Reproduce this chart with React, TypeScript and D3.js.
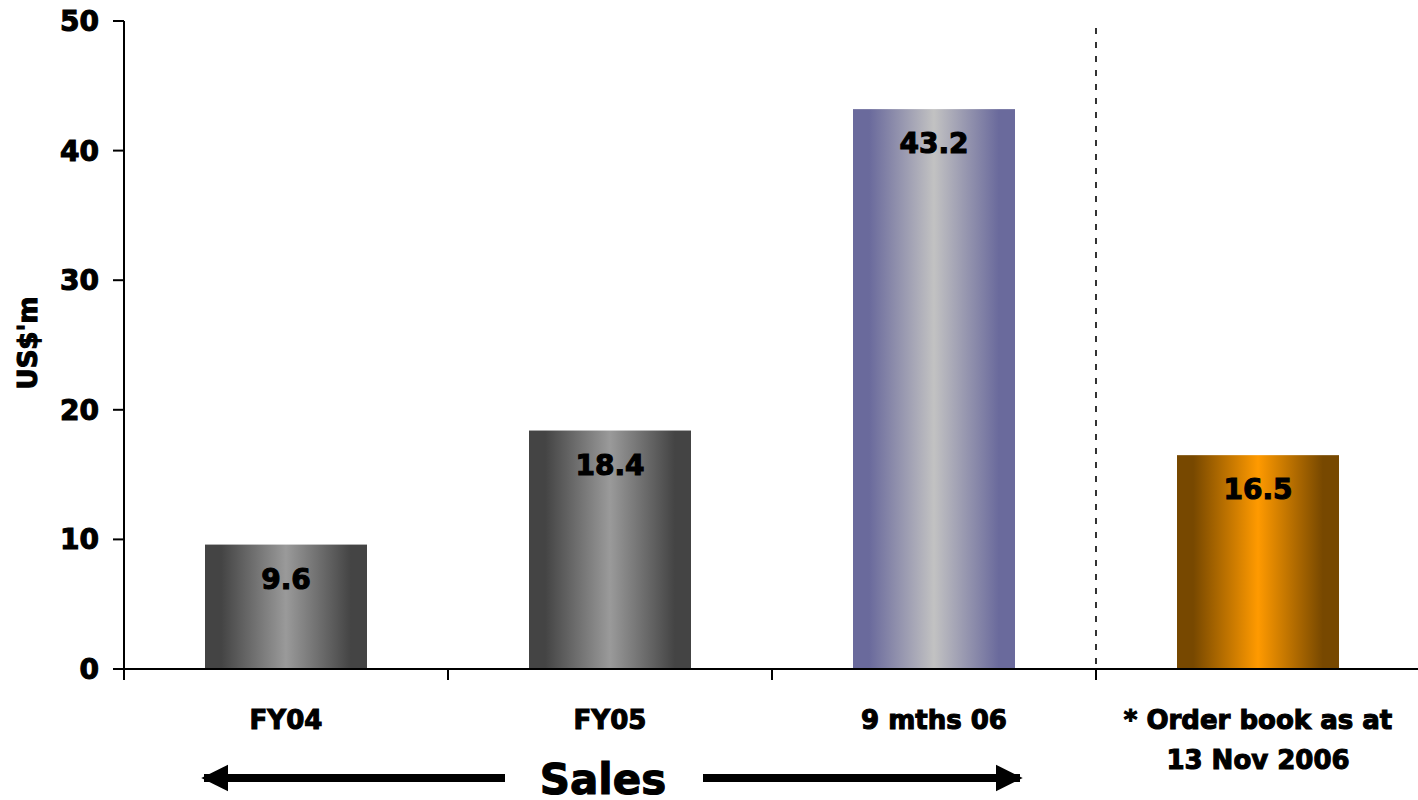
import React from 'react';
import * as d3 from 'd3';

const categories = ['FY04', 'FY05', '9 mths 06', '* Order book as at\n13 Nov 2006'];
const values = [9.6, 18.4, 43.2, 16.5];
const yTicks = [0, 10, 20, 30, 40, 50];

// per-bar gradient: edge colour, centre colour
const GRADIENTS = [
  ['#444444', '#9a9a9a'],
  ['#444444', '#9a9a9a'],
  ['#6a6a9c', '#c2c2c2'],
  ['#774800', '#ff9a00'],
];

const WIDTH = 1418;
const HEIGHT = 800;
const MARGIN = { top: 21, right: -2, bottom: 131, left: 124 };
const FONT = '"DejaVu Sans", Verdana, sans-serif';
// Verdana bold looks heavier than DejaVu bold, so thicken the glyphs a bit
const HEAVY = { stroke: '#000', strokeWidth: 1.1, paintOrder: 'stroke' } as const;

export default function App() {
  const innerW = WIDTH - MARGIN.left - MARGIN.right;
  const innerH = HEIGHT - MARGIN.top - MARGIN.bottom;

  const x = d3.scaleBand<string>().domain(categories).range([0, innerW]).padding(0);
  const y = d3.scaleLinear().domain([0, 50]).range([innerH, 0]);
  const barW = x.bandwidth() * 0.5;

  const boundaries = categories.map((c) => x(c) as number).concat([innerW]);
  const dividerX = x(categories[3]) as number;

  return (
    <svg width={WIDTH} height={HEIGHT} style={{ position: 'absolute', left: 0, top: 0, background: '#fff' }}>
      <defs>
        {GRADIENTS.map(([edge, mid], i) => (
          <linearGradient key={i} id={`g${i}`} x1="0" x2="1" y1="0" y2="0">
            <stop offset="0%" stopColor={edge} />
            <stop offset="10%" stopColor={edge} />
            <stop offset="50%" stopColor={mid} />
            <stop offset="90%" stopColor={edge} />
            <stop offset="100%" stopColor={edge} />
          </linearGradient>
        ))}
        <marker id="arrow" viewBox="0 0 10 10" refX="9" refY="5" markerWidth="3.4" markerHeight="3.4" orient="auto-start-reverse" markerUnits="strokeWidth">
          <path d="M0,0L10,5L0,10Z" fill="#000" />
        </marker>
      </defs>
      <g transform={`translate(${MARGIN.left},${MARGIN.top})`} fontFamily={FONT} fontWeight="bold">
        {/* divider */}
        <line x1={dividerX} x2={dividerX} y1={7} y2={innerH} stroke="#000" strokeWidth={1.6} strokeDasharray="6,8" />

        {/* bars */}
        {values.map((v, i) => {
          const bx = (x(categories[i]) as number) + (x.bandwidth() - barW) / 2;
          return (
            <g key={i}>
              <rect x={bx} y={y(v)} width={barW} height={innerH - y(v)} fill={`url(#g${i})`} />
              <text x={bx + barW / 2} y={y(v) + 44} textAnchor="middle" fontSize={28} fill="#000" {...HEAVY}>
                {v.toFixed(1)}
              </text>
            </g>
          );
        })}

        {/* y axis */}
        <line x1={0} x2={0} y1={0} y2={innerH + 11} stroke="#000" strokeWidth={2} />
        {yTicks.map((t) => (
          <g key={t} transform={`translate(0,${y(t)})`}>
            <line x1={-11} x2={0} stroke="#000" strokeWidth={2} />
            <text x={-25} dy="0.36em" textAnchor="end" fontSize={28} {...HEAVY}>{t}</text>
          </g>
        ))}
        <text transform={`translate(${37 - MARGIN.left},${y(25) - 2}) rotate(-90)`} textAnchor="middle" fontSize={26} {...HEAVY}>US$'m</text>

        {/* x axis */}
        <line x1={0} x2={innerW} y1={innerH} y2={innerH} stroke="#000" strokeWidth={2} />
        {boundaries.slice(1, 4).map((bx, i) => (
          <line key={i} x1={bx} x2={bx} y1={innerH} y2={innerH + 11} stroke="#000" strokeWidth={2} />
        ))}
        {categories.map((c) => (
          <text key={c} x={(x(c) as number) + x.bandwidth() / 2} y={innerH + 60} textAnchor="middle" fontSize={26} {...HEAVY}>
            {c.split('\n').map((line, j) => (
              <tspan key={j} x={(x(c) as number) + x.bandwidth() / 2} dy={j === 0 ? 0 : 40}>{line}</tspan>
            ))}
          </text>
        ))}

        {/* Sales label with arrows */}
        <text x={603 - MARGIN.left} y={HEIGHT - MARGIN.top - 6} textAnchor="middle" fontSize={42} {...HEAVY}>Sales</text>
        <line x1={505 - MARGIN.left} x2={204 - MARGIN.left} y1={778 - MARGIN.top} y2={778 - MARGIN.top} stroke="#000" strokeWidth={8} markerEnd="url(#arrow)" />
        <line x1={703 - MARGIN.left} x2={1020 - MARGIN.left} y1={778 - MARGIN.top} y2={778 - MARGIN.top} stroke="#000" strokeWidth={8} markerEnd="url(#arrow)" />
      </g>
    </svg>
  );
}
